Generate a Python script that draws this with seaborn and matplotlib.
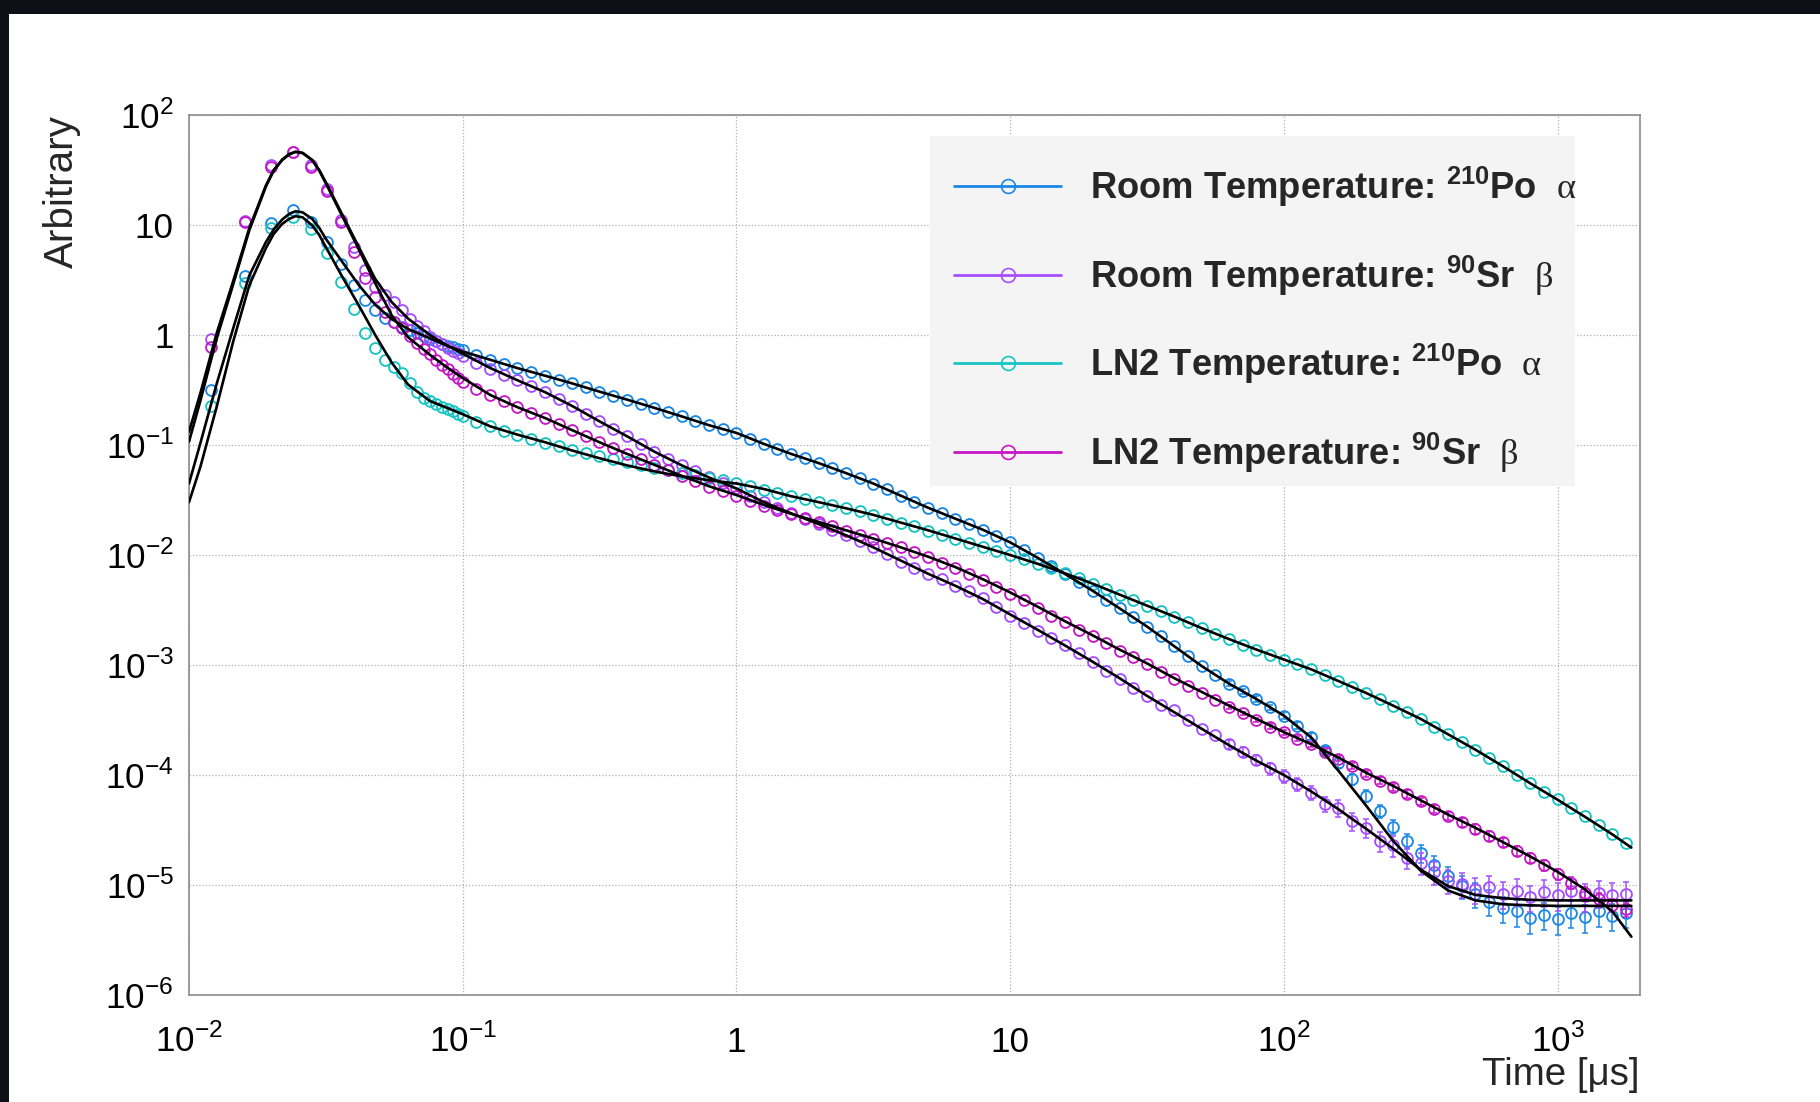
import numpy as np
import pandas as pd
import matplotlib
matplotlib.use("Agg")
import matplotlib.pyplot as plt
import seaborn as sns
from matplotlib import font_manager
from matplotlib.lines import Line2D
from matplotlib.patches import Rectangle
from matplotlib.ticker import LogLocator, FuncFormatter, NullFormatter

# ---------------------------------------------------------------------------
# Pulse-shape data: bin centres in microseconds.
# 4 ns bins up to 0.1 us, then 20 points per decade.
# ---------------------------------------------------------------------------
TIME_EARLY = [0.012, 0.016, 0.020, 0.024, 0.028, 0.032, 0.036, 0.040, 0.044,
              0.048, 0.052, 0.056, 0.060, 0.064, 0.068, 0.072, 0.076, 0.080,
              0.084, 0.088, 0.092, 0.096, 0.100]
TIME_LATE = [0.112, 0.126, 0.141, 0.158, 0.178, 0.200, 0.224, 0.251, 0.282, 0.316,
             0.355, 0.398, 0.447, 0.501, 0.562, 0.631, 0.708, 0.794, 0.891, 1.00,
             1.12, 1.26, 1.41, 1.58, 1.78, 2.00, 2.24, 2.51, 2.82, 3.16,
             3.55, 3.98, 4.47, 5.01, 5.62, 6.31, 7.08, 7.94, 8.91, 10.0,
             11.2, 12.6, 14.1, 15.8, 17.8, 20.0, 22.4, 25.1, 28.2, 31.6,
             35.5, 39.8, 44.7, 50.1, 56.2, 63.1, 70.8, 79.4, 89.1, 100.0,
             112, 126, 141, 158, 178, 200, 224, 251, 282, 316,
             355, 398, 447, 501, 562, 631, 708, 794, 891, 1000,
             1122, 1259, 1413, 1585, 1778]

# Normalised signal, stored as log10(intensity) ("decades")
ROOM_PO_DEC = [
    -0.500, 0.536, 1.021, 1.136, 1.030, 0.848, 0.645, 0.455, 0.318, 0.227, 0.152, 0.121,
    0.075, 0.045, 0.015, -0.009, -0.034, -0.058, -0.079, -0.097, -0.112, -0.128, -0.140,
    -0.185, -0.225, -0.265, -0.300, -0.337, -0.370, -0.405, -0.440, -0.475, -0.515,
    -0.550, -0.587, -0.625, -0.662, -0.700, -0.740, -0.780, -0.820, -0.855, -0.890,
    -0.945, -0.990, -1.035, -1.080, -1.120, -1.165, -1.210, -1.255, -1.300, -1.350,
    -1.400, -1.460, -1.515, -1.570, -1.620, -1.670, -1.720, -1.770, -1.830, -1.885,
    -1.955, -2.025, -2.100, -2.170, -2.245, -2.325, -2.405, -2.485, -2.565, -2.650,
    -2.740, -2.830, -2.920, -3.010, -3.090, -3.170, -3.240, -3.310, -3.385, -3.460,
    -3.550, -3.650, -3.770, -3.890, -4.040, -4.190, -4.330, -4.470, -4.600, -4.710,
    -4.820, -4.920, -5.010, -5.080, -5.150, -5.210, -5.240, -5.300, -5.270, -5.310,
    -5.250, -5.290, -5.240, -5.280, -5.250]

ROOM_SR_DEC = [
    -0.040, 1.037, 1.545, 1.667, 1.545, 1.324, 1.045, 0.803, 0.591, 0.439, 0.364, 0.303,
    0.230, 0.150, 0.085, 0.035, -0.015, -0.052, -0.085, -0.115, -0.143, -0.167, -0.190,
    -0.250, -0.305, -0.360, -0.410, -0.460, -0.520, -0.580, -0.645, -0.715, -0.785,
    -0.855, -0.920, -0.990, -1.060, -1.125, -1.185, -1.240, -1.295, -1.345, -1.395,
    -1.460, -1.520, -1.570, -1.620, -1.670, -1.720, -1.770, -1.820, -1.870, -1.930,
    -1.990, -2.060, -2.115, -2.170, -2.220, -2.280, -2.330, -2.390, -2.470, -2.550,
    -2.620, -2.690, -2.750, -2.820, -2.890, -2.970, -3.050, -3.130, -3.210, -3.280,
    -3.360, -3.410, -3.500, -3.580, -3.640, -3.720, -3.790, -3.860, -3.940, -4.010,
    -4.080, -4.160, -4.260, -4.300, -4.420, -4.480, -4.600, -4.640, -4.750, -4.800,
    -4.880, -4.960, -4.990, -5.040, -5.020, -5.080, -5.050, -5.110, -5.060, -5.090,
    -5.050, -5.100, -5.070, -5.090, -5.080]

LN2_PO_DEC = [
    -0.645, 0.470, 0.970, 1.070, 0.961, 0.743, 0.485, 0.236, 0.015, -0.121, -0.227, -0.288,
    -0.348, -0.440, -0.520, -0.570, -0.600, -0.625, -0.650, -0.670, -0.690, -0.715, -0.735,
    -0.790, -0.825, -0.870, -0.905, -0.945, -0.980, -1.010, -1.045, -1.075, -1.100,
    -1.130, -1.155, -1.180, -1.205, -1.230, -1.255, -1.275, -1.300, -1.320, -1.345,
    -1.375, -1.405, -1.435, -1.465, -1.495, -1.520, -1.545, -1.570, -1.600, -1.635,
    -1.670, -1.705, -1.740, -1.780, -1.815, -1.850, -1.890, -1.925, -1.960, -2.000,
    -2.040, -2.080, -2.120, -2.165, -2.210, -2.260, -2.310, -2.360, -2.410, -2.460,
    -2.510, -2.560, -2.610, -2.665, -2.715, -2.765, -2.815, -2.860, -2.905, -2.950,
    -2.995, -3.040, -3.090, -3.145, -3.200, -3.255, -3.310, -3.370, -3.430, -3.490,
    -3.560, -3.630, -3.700, -3.770, -3.845, -3.920, -4.000, -4.075, -4.150, -4.220,
    -4.300, -4.375, -4.450, -4.535, -4.620]

LN2_SR_DEC = [
    -0.108, 1.030, 1.530, 1.660, 1.530, 1.310, 1.025, 0.757, 0.515, 0.348, 0.212, 0.121,
    0.060, -0.010, -0.070, -0.125, -0.175, -0.225, -0.270, -0.310, -0.350, -0.390, -0.430,
    -0.490, -0.545, -0.600, -0.655, -0.705, -0.755, -0.810, -0.865, -0.920, -0.975,
    -1.030, -1.080, -1.130, -1.180, -1.230, -1.280, -1.330, -1.380, -1.420, -1.460,
    -1.510, -1.550, -1.590, -1.630, -1.665, -1.700, -1.740, -1.780, -1.815, -1.850,
    -1.890, -1.930, -1.970, -2.020, -2.070, -2.120, -2.170, -2.230, -2.290, -2.350,
    -2.410, -2.480, -2.550, -2.610, -2.680, -2.740, -2.800, -2.870, -2.930, -2.990,
    -3.060, -3.130, -3.190, -3.250, -3.320, -3.380, -3.440, -3.500, -3.560, -3.610,
    -3.670, -3.720, -3.790, -3.850, -3.920, -3.990, -4.050, -4.110, -4.170, -4.240,
    -4.310, -4.370, -4.430, -4.490, -4.550, -4.610, -4.690, -4.750, -4.820, -4.900,
    -4.980, -5.070, -5.130, -5.180, -5.220]

# Relative statistical errors of the last 30 points (1.8 decades onwards)
ROOM_PO_REL_ERR = [0.05, 0.05, 0.06, 0.06, 0.07, 0.07, 0.08, 0.09, 0.10, 0.11,
                   0.12, 0.13, 0.15, 0.16, 0.18, 0.20, 0.22, 0.24, 0.25, 0.26,
                   0.27, 0.28, 0.28, 0.28, 0.28, 0.28, 0.28, 0.28, 0.28, 0.28]
ROOM_SR_REL_ERR = [0.10, 0.11, 0.11, 0.12, 0.13, 0.14, 0.15, 0.16, 0.17, 0.18,
                   0.19, 0.20, 0.21, 0.22, 0.23, 0.24, 0.25, 0.25, 0.26, 0.26,
                   0.27, 0.27, 0.27, 0.28, 0.28, 0.28, 0.28, 0.28, 0.28, 0.28]
LN2_SR_REL_ERR = [0.04, 0.04, 0.04, 0.05, 0.05, 0.05, 0.05, 0.06, 0.06, 0.06,
                  0.07, 0.07, 0.07, 0.08, 0.08, 0.08, 0.09, 0.09, 0.10, 0.10,
                  0.10, 0.11, 0.11, 0.12, 0.12, 0.13, 0.13, 0.14, 0.14, 0.15]

# Fit functions evaluated on a separate time grid (us)
FIT_TIME = [0.0100, 0.0110, 0.0126, 0.0145, 0.0166, 0.0191, 0.0204, 0.0219, 0.0232,
            0.0245, 0.0260, 0.0282, 0.0299, 0.0316, 0.0363, 0.0417, 0.0479, 0.0550,
            0.0631, 0.0759, 0.0871, 0.100,
            0.126, 0.158, 0.200, 0.251, 0.316, 0.398, 0.501, 0.631, 0.794, 1.00,
            1.26, 1.58, 2.00, 2.51, 3.16, 3.98, 5.01, 6.31, 7.94, 10.0,
            12.6, 15.8, 20.0, 25.1, 31.6, 39.8, 50.1, 63.1, 79.4, 100.0,
            126, 158, 200, 251, 316, 398, 501, 631, 794, 1000,
            1259, 1585, 1860]

ROOM_PO_FIT_DEC = [
    -1.350, -0.985, -0.450, 0.060, 0.540, 0.845, 0.960, 1.050, 1.100, 1.125, 1.115,
    1.055, 0.975, 0.875, 0.665, 0.455, 0.275, 0.145, 0.055, -0.030, -0.095, -0.150,
    -0.225, -0.300, -0.370, -0.440, -0.515, -0.587, -0.662, -0.740, -0.820, -0.890,
    -0.990, -1.080, -1.165, -1.255, -1.350, -1.460, -1.570, -1.670, -1.770, -1.885,
    -2.025, -2.170, -2.325, -2.485, -2.650, -2.830, -3.010, -3.170, -3.310, -3.460,
    -3.660, -3.960, -4.280, -4.600, -4.870, -5.050, -5.140, -5.175, -5.185, -5.190,
    -5.190, -5.190, -5.190]

ROOM_SR_FIT_DEC = [
    -0.880, -0.530, 0.010, 0.490, 0.970, 1.360, 1.500, 1.595, 1.645, 1.665, 1.655,
    1.590, 1.500, 1.390, 1.095, 0.800, 0.510, 0.300, 0.150, 0.000, -0.090, -0.170,
    -0.300, -0.410, -0.520, -0.645, -0.785, -0.920, -1.060, -1.185, -1.295, -1.395,
    -1.520, -1.620, -1.720, -1.820, -1.930, -2.050, -2.170, -2.280, -2.400, -2.540,
    -2.680, -2.820, -2.970, -3.120, -3.280, -3.430, -3.580, -3.730, -3.870, -4.000,
    -4.150, -4.310, -4.490, -4.670, -4.860, -5.010, -5.090, -5.120, -5.135, -5.140,
    -5.140, -5.140, -5.140]

LN2_PO_FIT_DEC = [
    -1.520, -1.200, -0.660, -0.060, 0.450, 0.790, 0.920, 1.010, 1.055, 1.080, 1.070,
    0.995, 0.910, 0.800, 0.530, 0.270, 0.000, -0.250, -0.450, -0.600, -0.660, -0.720,
    -0.830, -0.905, -0.975, -1.050, -1.120, -1.185, -1.240, -1.285, -1.320, -1.350,
    -1.400, -1.465, -1.520, -1.575, -1.635, -1.705, -1.775, -1.850, -1.925, -2.000,
    -2.080, -2.165, -2.260, -2.360, -2.460, -2.560, -2.665, -2.765, -2.860, -2.950,
    -3.040, -3.145, -3.255, -3.370, -3.490, -3.630, -3.770, -3.920, -4.075, -4.225,
    -4.380, -4.540, -4.660]

LN2_SR_FIT_DEC = [
    -0.970, -0.600, -0.040, 0.460, 0.950, 1.350, 1.495, 1.590, 1.640, 1.665, 1.655,
    1.590, 1.495, 1.380, 1.080, 0.780, 0.470, 0.180, -0.020, -0.180, -0.290, -0.390,
    -0.545, -0.655, -0.755, -0.865, -0.975, -1.080, -1.180, -1.280, -1.375, -1.455,
    -1.545, -1.625, -1.700, -1.775, -1.850, -1.930, -2.015, -2.110, -2.220, -2.340,
    -2.470, -2.600, -2.730, -2.860, -2.985, -3.120, -3.245, -3.370, -3.490, -3.610,
    -3.720, -3.840, -3.980, -4.100, -4.230, -4.360, -4.480, -4.610, -4.740, -4.880,
    -5.040, -5.240, -5.470]

LABELS = [r"Room Temperature: $^{\mathbf{210}}$Po  $\mathsf{α}$",
          r"Room Temperature: $^{\mathbf{90}}$Sr  $\mathsf{β}$",
          r"LN2 Temperature: $^{\mathbf{210}}$Po  $\mathsf{α}$",
          r"LN2 Temperature: $^{\mathbf{90}}$Sr  $\mathsf{β}$"]
COLOURS = ["#1a88e4", "#a64fff", "#17c4c4", "#c619c6"]

# ---------------------------------------------------------------------------
# Style
# ---------------------------------------------------------------------------
sns.set_theme(style="white")
_names = {f.name for f in font_manager.fontManager.ttflist}
FONT = "Liberation Sans Narrow" if "Liberation Sans Narrow" in _names else "Liberation Sans"
K = 1.0 if FONT.endswith("Narrow") else 0.84
plt.rcParams.update({
    "font.family": [FONT, "DejaVu Sans"],
    "mathtext.fontset": "custom",
    "mathtext.rm": FONT,
    "mathtext.bf": FONT + ":bold",
    "mathtext.sf": "Liberation Serif",
    "axes.unicode_minus": False,
})
TICK_FS = 30 * K
LEG_FS = 31.2 * K
TITLE_FS = 33 * K

W, H = 1820, 1102
fig = plt.figure(figsize=(W / 100, H / 100), dpi=100, facecolor="white")
ax = fig.add_axes([189 / W, 1 - 995 / H, (1640 - 189) / W, (995 - 115) / H])
ax.set_xscale("log")
ax.set_yscale("log")

# ---------------------------------------------------------------------------
# Tables for seaborn
# ---------------------------------------------------------------------------
time = np.array(TIME_EARLY + TIME_LATE)
series_dec = [ROOM_PO_DEC, ROOM_SR_DEC, LN2_PO_DEC, LN2_SR_DEC]
fits_dec = [ROOM_PO_FIT_DEC, ROOM_SR_FIT_DEC, LN2_PO_FIT_DEC, LN2_SR_FIT_DEC]

data = pd.concat([
    pd.DataFrame({"time": time, "signal": 10.0 ** np.asarray(d), "sample": lab})
    for lab, d in zip(LABELS, series_dec)], ignore_index=True)
fits = pd.concat([
    pd.DataFrame({"time": FIT_TIME, "signal": 10.0 ** np.asarray(d), "sample": lab})
    for lab, d in zip(LABELS, fits_dec)], ignore_index=True)

# Markers (open circles) for each sample
for lab, col in zip(LABELS, COLOURS):
    sns.lineplot(data=data[data["sample"] == lab], x="time", y="signal", ax=ax,
                 color=col, linestyle="none", marker="o", markersize=7.8,
                 markerfacecolor="none", markeredgecolor=col, markeredgewidth=1.35,
                 estimator=None, sort=False, legend=False, zorder=3)

# Statistical error bars on the sparse tails
n_tail = len(ROOM_PO_REL_ERR)
for lab, col, rel in [(LABELS[0], COLOURS[0], ROOM_PO_REL_ERR),
                      (LABELS[1], COLOURS[1], ROOM_SR_REL_ERR),
                      (LABELS[3], COLOURS[3], LN2_SR_REL_ERR)]:
    sub = data[data["sample"] == lab].tail(n_tail)
    ax.errorbar(sub["time"], sub["signal"], yerr=sub["signal"].to_numpy() * np.asarray(rel),
                fmt="none", ecolor=col, elinewidth=1.1, capsize=2.5, capthick=1.1, zorder=3)

# Fitted models
for lab in LABELS:
    sns.lineplot(data=fits[fits["sample"] == lab], x="time", y="signal", ax=ax,
                 color="black", linewidth=1.9, estimator=None, sort=False,
                 legend=False, zorder=4)

# ---------------------------------------------------------------------------
# Axes
# ---------------------------------------------------------------------------
ax.set_xlim(0.01, 2000)
ax.set_ylim(1e-6, 100)


def decade_label(v, pos):
    e = int(round(np.log10(v)))
    if e == 0:
        return "1"
    if e == 1:
        return "10"
    return r"$10^{%d}$" % e


for axis in (ax.xaxis, ax.yaxis):
    axis.set_major_locator(LogLocator(base=10, numticks=20))
    axis.set_minor_locator(LogLocator(base=10, subs=np.arange(2, 10), numticks=20))
    axis.set_major_formatter(FuncFormatter(decade_label))
    axis.set_minor_formatter(NullFormatter())

ax.tick_params(which="both", direction="in", top=False, right=False,
               color="#333333", width=0.8, labelsize=TICK_FS, labelcolor="black")
ax.tick_params(axis="y", which="major", length=31, pad=11)
ax.tick_params(axis="y", which="minor", length=16)
ax.tick_params(axis="x", which="major", length=19, pad=41)
ax.tick_params(axis="x", which="minor", length=10)
for lbl in ax.get_xticklabels():
    lbl.set_verticalalignment("baseline")

for sp in ax.spines.values():
    sp.set_color("#8c8c8c")
    sp.set_linewidth(1.2)

ax.set_axisbelow(True)
ax.grid(True, which="major", color="#b0b0b0", linestyle=(0, (1, 1.6)), linewidth=0.9)

ax.set_xlabel("Time [μs]", loc="right", fontsize=TITLE_FS)
ax.xaxis.set_label_coords(1.0, -0.070)
ax.set_ylabel("Arbitrary", loc="top", fontsize=TITLE_FS * 1.05)
ax.yaxis.set_label_coords(-0.0745, 1.0)

# ---------------------------------------------------------------------------
# Legend: shaded panel with the entries laid over it
# ---------------------------------------------------------------------------
ax.add_patch(Rectangle((0.5107, 0.5784), 0.9552 - 0.5107, 0.9761 - 0.5784,
                       transform=ax.transAxes, facecolor="#f4f4f4", edgecolor="none",
                       zorder=5))
handles = [Line2D([], [], color=c, lw=2.0, marker="o", markersize=10,
                  markerfacecolor="none", markeredgecolor=c, markeredgewidth=1.2)
           for c in COLOURS]
leg = ax.legend(handles, LABELS, loc="upper left", bbox_to_anchor=(0.5272, 0.9435),
                bbox_transform=ax.transAxes, frameon=False,
                borderpad=0.0, borderaxespad=0.0, handlelength=2.95,
                handletextpad=0.78, labelspacing=1.22, numpoints=1,
                prop={"family": FONT, "weight": "bold", "size": LEG_FS})
leg.set_zorder(6)

# Dark frame strips along the top and left edge of the canvas
fig.patches.append(Rectangle((0, 1 - 14 / H), 1, 14 / H, transform=fig.transFigure,
                             facecolor="#0d1117", edgecolor="none", zorder=10))
fig.patches.append(Rectangle((0, 0), 9 / W, 1, transform=fig.transFigure,
                             facecolor="#0d1117", edgecolor="none", zorder=10))

fig.savefig("out.png", dpi=100, facecolor="white")
